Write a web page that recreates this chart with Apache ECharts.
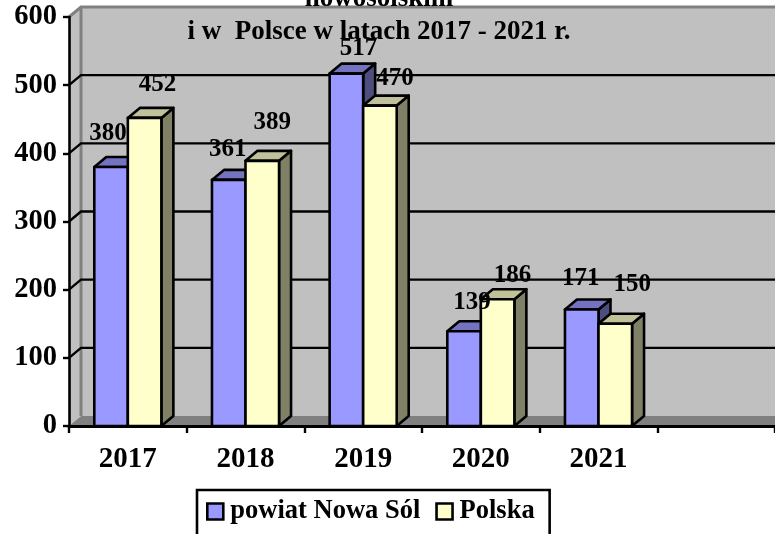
<!DOCTYPE html>
<html>
<head>
<meta charset="utf-8">
<style>html,body{margin:0;padding:0;background:#fff;overflow:hidden}#c{width:775px;height:534px}</style>
<script src="https://cdn.jsdelivr.net/npm/echarts@6/dist/echarts.min.js"></script>
</head>
<body>
<div id="c"></div>
<script>
const categories = ['2017', '2018', '2019', '2020', '2021', ''];
const powiat = [380, 361, 517, 139, 171];
const polska = [452, 389, 470, 186, 150];
const yTicks = [0, 100, 200, 300, 400, 500, 600];
const titleText = 'nowosolskim\ni w  Polsce w latach 2017 - 2021 r.';
// manual placement of the value labels relative to each bar top (dx, dy)
const powiatLabelNudge = [[-3, -33], [-1, -30], [12, -25], [8, -29], [-1, -31]];
const polskaLabelNudge = [[13, -33], [10, -38], [15, -27], [15, -24], [17, -39]];

const DX = 12, DY = 10;
const FONT = '"Liberation Serif", "Times New Roman", serif';

function wall(params, api) {
  const v = api.value(1);
  const cs = params.coordSys;
  const xL = cs.x, xR = cs.x + cs.width;
  const y = api.coord([0, v])[1];
  const children = [];
  if (v === 0) {
    const top = cs.y, bot = cs.y + cs.height;
    children.push({type: 'polygon', shape: {points: [[xL + DX, top - DY], [xR, top - DY], [xR, bot - DY], [xL + DX, bot - DY]]}, style: {fill: '#C0C0C0'}});
    children.push({type: 'polygon', shape: {points: [[xL, top], [xL + DX, top - DY], [xL + DX, bot - DY], [xL, bot]]}, style: {fill: '#C0C0C0'}});
    children.push({type: 'polygon', shape: {points: [[xL, bot], [xL + DX, bot - DY], [xR, bot - DY], [xR, bot]]}, style: {fill: '#808080'}});
    children.push({type: 'polyline', shape: {points: [[xL, top], [xL + DX, top - DY], [xR, top - DY]]}, style: {fill: 'none', stroke: '#808080', lineWidth: 3}});
    children.push({type: 'line', shape: {x1: xL + DX, y1: top - DY, x2: xL + DX, y2: bot - DY}, style: {stroke: '#808080', lineWidth: 3}});
  } else if (v < 600) {
    children.push({type: 'polyline', shape: {points: [[xL, y], [xL + DX, y - DY], [xR, y - DY]]}, style: {fill: 'none', stroke: '#000', lineWidth: 2.4}});
  }
  return {type: 'group', children};
}

function barMaker(side, front, top, right, nudge) {
  return function (params, api) {
    const i = api.value(0), v = api.value(1);
    const c = api.coord([i, v]);
    const base = api.coord([i, 0]);
    const w = api.size([1, 0])[0] * 0.285;
    const x0 = c[0] + (side < 0 ? -w : 0), x1 = x0 + w;
    const yT = c[1], yB = base[1];
    const stroke = {stroke: '#000', lineWidth: 2.6, lineJoin: 'round'};
    return {type: 'group', children: [
      {type: 'polygon', shape: {points: [[x1, yT], [x1 + DX, yT - DY], [x1 + DX, yB - DY], [x1, yB]]}, style: Object.assign({fill: right}, stroke)},
      {type: 'polygon', shape: {points: [[x0, yT], [x0 + DX, yT - DY], [x1 + DX, yT - DY], [x1, yT]]}, style: Object.assign({fill: top}, stroke)},
      {type: 'rect', shape: {x: x0, y: yT, width: w, height: yB - yT}, style: Object.assign({fill: front}, stroke)},
      {type: 'text', z2: 100, x: x0 + w / 2 + nudge[i][0], y: yT + nudge[i][1],
        style: {text: String(v), fill: '#000', font: 'bold 25px ' + FONT, align: 'center', verticalAlign: 'middle'}}
    ]};
  };
}

const chart = echarts.init(document.getElementById('c'), null, {renderer: 'canvas'});
chart.setOption({
  animation: false,
  backgroundColor: '#fff',
  title: {
    text: titleText, left: 374, textAlign: 'center', top: -22,
    textStyle: {fontFamily: FONT, fontWeight: 'bold', fontSize: 27, lineHeight: 33, color: '#000'}
  },
  legend: {
    left: 197, top: 490, orient: 'horizontal', itemWidth: 16, itemHeight: 16, itemGap: 15,
    padding: [8, 15, 33, 9], backgroundColor: '#fff', borderColor: '#000', borderWidth: 2.6, borderRadius: 0,
    textStyle: {fontFamily: FONT, fontWeight: 'bold', fontSize: 26.5, color: '#000', padding: [0, 0, 0, 2]},
    data: [
      {name: 'powiat Nowa Sól', icon: 'rect', itemStyle: {color: '#9999FF', borderColor: '#000', borderWidth: 2.6}},
      {name: 'Polska', icon: 'rect', itemStyle: {color: '#FFFFCC', borderColor: '#000', borderWidth: 2.6}}
    ]
  },
  grid: {left: 69, right: 0, top: 17, bottom: 108},
  xAxis: {
    type: 'category', data: categories, z: 3,
    axisLine: {lineStyle: {color: '#000', width: 3}},
    axisTick: {show: true, alignWithLabel: false, length: 7, lineStyle: {color: '#000', width: 2.4}},
    axisLabel: {interval: 0, margin: 19, color: '#000', fontFamily: FONT, fontWeight: 'bold', fontSize: 29},
    splitLine: {show: false}
  },
  yAxis: {
    type: 'value', min: 0, max: 600, interval: 100, z: 3,
    axisLine: {show: true, lineStyle: {color: '#000', width: 2.6}},
    axisTick: {show: true, length: 6, lineStyle: {color: '#000', width: 2.4}},
    axisLabel: {margin: 12, color: '#000', fontFamily: FONT, fontWeight: 'bold', fontSize: 28.5, padding: [4, 0, 0, 0]},
    splitLine: {show: false}
  },
  series: [
    {type: 'custom', name: 'wall', silent: true, z: 1, renderItem: wall,
      data: yTicks.map(t => [0, t]), encode: {x: 0, y: 1}},
    {type: 'custom', name: 'powiat Nowa Sól', z: 2, itemStyle: {color: '#9999FF'},
      renderItem: barMaker(-1, '#9999FF', '#7373C0', '#4D4D80', powiatLabelNudge),
      data: powiat.map((v, i) => [i, v]), encode: {x: 0, y: 1}},
    {type: 'custom', name: 'Polska', z: 2, itemStyle: {color: '#FFFFCC'},
      renderItem: barMaker(1, '#FFFFCC', '#C0C09A', '#808066', polskaLabelNudge),
      data: polska.map((v, i) => [i, v]), encode: {x: 0, y: 1}}
  ]
});
</script>
</body>
</html>
